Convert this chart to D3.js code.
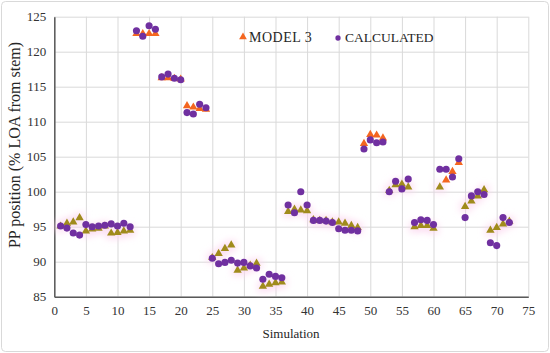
<!DOCTYPE html>
<html>
<head>
<meta charset="utf-8">
<script src="https://cdn.jsdelivr.net/npm/d3@7"></script>
<style>
  html, body { margin: 0; padding: 0; background: #fff; }
  text { font-family: "Liberation Serif", "DejaVu Serif", serif; }
</style>
</head>
<body>
<svg id="chart" width="550" height="353"></svg>
<script>
//
// Data
//
const simulations = d3.range(1, 73);
const model3 = [
  95.0, 95.4, 95.6, 96.2, 94.3, 94.6, 94.7, 95.0, 94.0, 94.1, 94.3, 94.4,
  122.5, 122.5, 122.5, 122.5, 116.2, 116.2, 116.1, 116.0, 112.2, 112.0, 111.8, 111.7,
  90.5, 91.1, 91.8, 92.3, 88.7, 89.0, 89.4, 89.7, 86.4, 86.7, 86.9, 87.0,
  97.1, 97.4, 97.3, 97.2, 95.9, 95.8, 95.8, 95.6, 95.6, 95.4, 95.1, 94.8,
  106.8, 108.1, 108.0, 107.6, 100.1, 100.9, 101.0, 100.6, 94.9, 95.1, 95.1, 94.7,
  100.6, 101.6, 102.8, 104.1, 97.8, 98.6, 99.3, 100.2, 94.4, 94.8, 95.3, 95.7
];
const calculated = [
  95.1, 94.8, 94.1, 93.8, 95.3, 95.0, 95.1, 95.2, 95.4, 95.1, 95.5, 95.0,
  123.0, 122.2, 123.7, 123.2, 116.4, 116.8, 116.2, 116.0, 111.3, 111.1, 112.5, 112.0,
  90.5, 89.7, 89.9, 90.2, 89.8, 89.9, 89.4, 89.1, 87.5, 88.2, 87.9, 87.7,
  98.1, 97.0, 100.0, 98.1, 95.9, 95.9, 95.8, 95.6, 94.7, 94.5, 94.5, 94.4,
  106.1, 107.4, 107.0, 107.1, 100.0, 101.5, 100.4, 101.8, 95.6, 96.0, 95.9, 95.3,
  103.2, 103.2, 102.1, 104.7, 96.3, 99.4, 100.0, 99.6, 92.7, 92.3, 96.3, 95.6
];
const xTicks = d3.range(0, 80, 5);
const yTicks = d3.range(85, 130, 5);
const seriesNames = ['MODEL 3', 'CALCULATED'];

//
// Configuration
//
const width = 550, height = 353;
const margin = {top: 16.7, right: 21.7, bottom: 56.3, left: 54.3};
const colorOrange = '#f4661f';
const colorOlive = '#a08b1c';
const colorPurple = '#7030a0';
const colorGrid = '#d9d9d9';
const colorAxis = '#595959';

const svg = d3.select('#chart');

const x = d3.scaleLinear().domain([0, 75]).range([margin.left, width - margin.right]);
const y = d3.scaleLinear().domain([85, 125]).range([height - margin.bottom, margin.top]);
// triangles above ~101 were drawn orange, the rest olive
const triColor = d3.scaleThreshold().domain([101.3]).range([colorOlive, colorOrange]);

// outer border
svg.append('rect')
    .attr('x', 1.5).attr('y', 1.5)
    .attr('width', width - 3).attr('height', height - 3)
    .attr('rx', 4)
    .attr('fill', '#fff')
    .attr('stroke', '#d9d9d9');

// glow filter
const defs = svg.append('defs');
defs.append('filter').attr('id', 'glow')
    .attr('x', '-100%').attr('y', '-100%').attr('width', '300%').attr('height', '300%')
  .append('feGaussianBlur').attr('stdDeviation', 3);

// grid
svg.append('g')
    .attr('transform', `translate(0,${height - margin.bottom})`)
    .call(d3.axisBottom(x).tickValues(xTicks).tickSize(-(height - margin.top - margin.bottom)).tickFormat(''))
    .call(g => g.select('.domain').remove())
    .call(g => g.selectAll('line').attr('stroke', colorGrid));

svg.append('g')
    .attr('transform', `translate(${margin.left},0)`)
    .call(d3.axisLeft(y).tickValues(yTicks).tickSize(-(width - margin.left - margin.right)).tickFormat(''))
    .call(g => g.select('.domain').remove())
    .call(g => g.selectAll('line').attr('stroke', colorGrid));

// axes
const xAxis = svg.append('g')
    .attr('transform', `translate(0,${height - margin.bottom})`)
    .call(d3.axisBottom(x).tickValues(xTicks).tickSize(0).tickPadding(9));
const yAxis = svg.append('g')
    .attr('transform', `translate(${margin.left},0)`)
    .call(d3.axisLeft(y).tickValues(yTicks).tickSize(0).tickPadding(8));

[xAxis, yAxis].forEach(g => {
  g.select('.domain').attr('stroke', colorAxis).attr('stroke-width', 1.5);
  g.selectAll('text')
      .attr('font-family', '"Liberation Serif", serif')
      .attr('font-size', 13)
      .attr('fill', '#333');
});

// soft pink glow behind olive triangles
const tri = d3.symbol().type(d3.symbolTriangle).size(30);
const dot = d3.symbol().type(d3.symbolCircle).size(40);

svg.append('g')
    .attr('filter', 'url(#glow)')
  .selectAll('rect')
  .data(simulations.filter((s, i) => triColor(model3[i]) === colorOlive))
  .join('rect')
    .attr('x', d => x(d) - 6)
    .attr('y', d => y(model3[d - 1]) - 6)
    .attr('width', 12).attr('height', 12)
    .attr('fill', '#fbd6ef')
    .attr('opacity', 0.55);

// MODEL 3
svg.append('g')
  .selectAll('path')
  .data(simulations)
  .join('path')
    .attr('d', tri)
    .attr('transform', (d, i) => `translate(${x(d)},${y(model3[i]) - 0.5})`)
    .attr('fill', (d, i) => triColor(model3[i]));

// CALCULATED
svg.append('g')
  .selectAll('path')
  .data(simulations)
  .join('path')
    .attr('d', dot)
    .attr('transform', (d, i) => `translate(${x(d)},${y(calculated[i])})`)
    .attr('fill', colorPurple);

// legend
const legend = svg.append('g').attr('transform', 'translate(243,37)');
legend.append('path')
    .attr('d', d3.symbol().type(d3.symbolTriangle).size(26))
    .attr('fill', colorOrange);
legend.append('text')
    .attr('x', 6).attr('y', 4.5)
    .attr('font-size', 14)
    .attr('letter-spacing', 0.5)
    .attr('fill', '#262626')
    .text(seriesNames[0]);
legend.append('path')
    .attr('d', d3.symbol().type(d3.symbolCircle).size(22))
    .attr('transform', 'translate(95,1)')
    .attr('fill', colorPurple);
legend.append('text')
    .attr('x', 102).attr('y', 4.5)
    .attr('font-size', 13.5)
    .attr('fill', '#262626')
    .text(seriesNames[1]);

// axis titles
svg.append('text')
    .attr('x', 291).attr('y', 338)
    .attr('text-anchor', 'middle')
    .attr('font-size', 13)
    .attr('fill', '#262626')
    .text('Simulation');

svg.append('text')
    .attr('transform', 'translate(20,145) rotate(-90)')
    .attr('text-anchor', 'middle')
    .attr('font-size', 16)
    .attr('fill', '#262626')
    .text('PP position (% LOA from stem)');
</script>
</body>
</html>
